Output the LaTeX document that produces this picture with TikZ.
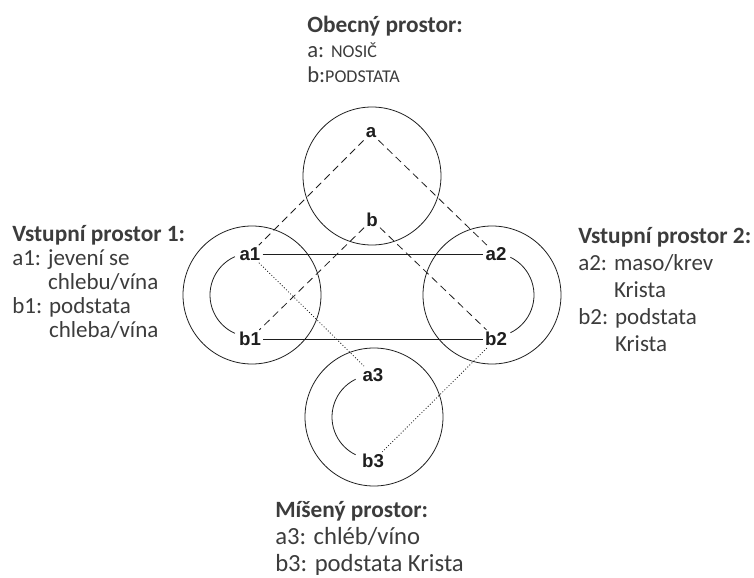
\documentclass[tikz,border=0pt]{standalone}
\usepackage{fontspec}
\setmainfont{Carlito}
\newfontfamily\labelfont{Liberation Sans}
\usepackage{xcolor}
\usetikzlibrary{positioning,calc}

\definecolor{textgray}{HTML}{3C3C3C}
\definecolor{inkgray}{HTML}{1E1E1E}
\newcommand{\capsmall}{\fontsize{13.5}{13.5}\selectfont}
\newcommand{\headfont}{\fontsize{17.5}{17.5}\selectfont\bfseries}

\tikzset{
  space/.style={draw=inkgray, line width=0.6pt},
  inner arc/.style={draw=inkgray, line width=0.6pt},
  lbl/.style={font=\labelfont\bfseries\fontsize{14}{14}\selectfont, text=inkgray, inner sep=1.5pt},
  link/.style={draw=inkgray, line width=0.6pt},
  dashlink/.style={draw=inkgray, line width=0.6pt, dash pattern=on 5.5pt off 3.5pt},
  dotlink/.style={draw=inkgray, line width=0.6pt, dash pattern=on 0.7pt off 1.5pt},
  block/.style={align=left, anchor=base west, inner sep=0pt, text=textgray}
}

\begin{document}
\begin{tikzpicture}[x=0.75pt, y=-0.75pt]
    \useasboundingbox (0,0) rectangle (754,578);

    % Mental spaces
    \coordinate (cgen) at (372,176);
    \coordinate (cin1) at (252,295);
    \coordinate (cin2) at (492,295);
    \coordinate (cbl) at (374,417);
    \foreach \c in {cgen,cin1,cin2,cbl}
        \draw[space] (\c) circle[radius=69];

    % Inner arcs
    \draw[inner arc] (cin1) ++(246:42) arc[start angle=246, end angle=114, radius=42];
    \draw[inner arc] (cin2) ++(-64:42) arc[start angle=-64, end angle=64, radius=42];
    \draw[inner arc] (cbl) ++(244:42) arc[start angle=244, end angle=116, radius=42];

    % Elements
    \node[lbl] (a) at (371,133) {a};
    \node[lbl] (b) at (372,220) {b};
    \node[lbl] (a1) at (250,254) {a1};
    \node[lbl] (b1) at (250,339) {b1};
    \node[lbl] (a2) at (496,254) {a2};
    \node[lbl] (b2) at (496,339) {b2};
    \node[lbl] (a3) at (373,375) {a3};
    \node[lbl] (b3) at (373,461) {b3};

    % Mappings
    \draw[link] (a1) -- (a2);
    \draw[link] (b1) -- (b2);
    \draw[dashlink] (a) -- (a1);
    \draw[dashlink] (a) -- (a2);
    \draw[dashlink] (b) -- (b1);
    \draw[dashlink] (b) -- (b2);
    \draw[dotlink] (a1) -- (a3);
    \draw[dotlink] (b2) -- (b3);

    % Descriptions (anchored at the baseline of the last line)
    \node[block, font=\fontsize{17}{18.75}\selectfont] (gentext) at (307,82)
        {{\headfont Obecný prostor:}\\a: {\capsmall NOSIČ}\\b:{\capsmall PODSTATA}};
    \node[block, font=\fontsize{17.25}{18}\selectfont] (in1text) at (12,337)
        {{\headfont Vstupní prostor 1:}\\a1: jevení se\\\phantom{a1: }chlebu/vína\\b1: podstata\\\phantom{b1: }chleba/vína};
    \node[block, font=\fontsize{17.25}{20.25}\selectfont] (in2text) at (578,351)
        {{\headfont Vstupní prostor 2:}\\a2: maso/krev\\\phantom{a2: }Krista\\b2: podstata\\\phantom{b2: }Krista};
    \node[block, font=\fontsize{18.5}{20}\selectfont] (bltext) at (275,571)
        {{\headfont Míšený prostor:}\\a3: chléb/víno\\b3: podstata Krista};
\end{tikzpicture}
\end{document}
